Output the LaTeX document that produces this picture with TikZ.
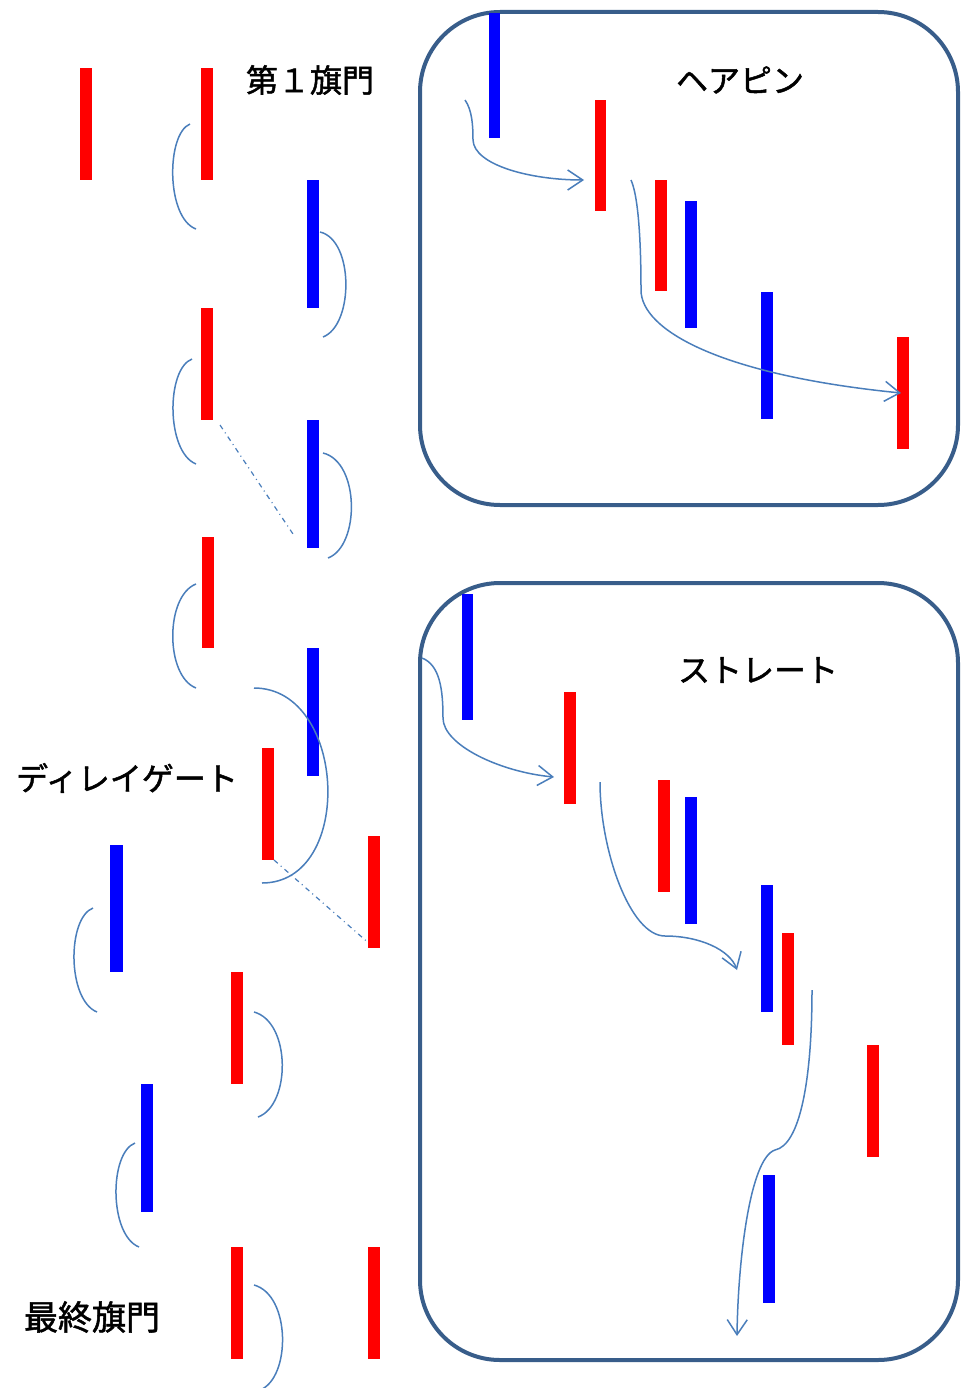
\documentclass[tikz,border=0pt]{standalone}
\usepackage{fontspec}
\setmainfont{Noto Sans CJK JP}[FakeBold=1.5]
\usetikzlibrary{arrows.meta}
\definecolor{swingblue}{RGB}{74,126,187}
\definecolor{panelblue}{RGB}{56,93,138}
\begin{document}
\begin{tikzpicture}[x=1pt, y=-1pt,
  redgate/.style={fill=red},
  bluegate/.style={fill=blue},
  swing/.style={draw=swingblue, line width=1.5pt},
  course/.style={draw=swingblue, line width=1.5pt, -{Straight Barb[length=15pt,width=20pt]}},
  guide/.style={draw=swingblue, line width=1.2pt, dash pattern=on 5pt off 4pt on 1pt off 4pt},
  panel/.style={draw=panelblue, line width=4pt, rounded corners=80pt},
  title/.style={font=\fontsize{32}{32}\selectfont, inner sep=0pt}]
\useasboundingbox (0,0) rectangle (961,1388);
% left column: gates and turns
\fill[redgate] (80,68) rectangle (92,180); % start gate
\fill[redgate] (201,68) rectangle (213,180); % 1st gate
\draw[swing] (190,124) .. controls (166,134) and (166,218) .. (196,229); % turn 1
\fill[bluegate] (307,180) rectangle (319,308);
\draw[swing] (320,232) .. controls (354,240) and (354,325) .. (323,337); % turn 2
\fill[redgate] (201,308) rectangle (213,420);
\draw[swing] (192,359) .. controls (166,369) and (166,452) .. (196,464); % turn 3
\draw[guide] (220,425) -- (295,537); % line to next gate
\fill[bluegate] (307,420) rectangle (319,548);
\draw[swing] (323,453) .. controls (360,462) and (360,546) .. (328,558); % turn 4
\fill[redgate] (202,537) rectangle (214,648);
\draw[swing] (196,584) .. controls (165,596) and (165,676) .. (196,688); % turn 5
\fill[bluegate] (307,648) rectangle (319,776);
\draw[swing] (254,688) .. controls (347,688) and (355,883) .. (262,883); % delay turn
\fill[redgate] (262,748) rectangle (274,860);
\draw[guide] (274,860) -- (372,946); % line to next gate
\fill[redgate] (368,836) rectangle (380,948);
\fill[bluegate] (110,845) rectangle (123,972);
\draw[swing] (93,908) .. controls (67,918) and (67,1000) .. (97,1012); % turn 6
\fill[redgate] (231,972) rectangle (243,1084);
\draw[swing] (254,1012) .. controls (291,1022) and (291,1105) .. (258,1117); % turn 7
\fill[bluegate] (141,1084) rectangle (153,1212);
\draw[swing] (135,1143) .. controls (109,1153) and (109,1235) .. (139,1247); % turn 8
\fill[redgate] (231,1247) rectangle (243,1359); % last gate
\draw[swing] (254,1285) .. controls (291,1295) and (291,1378) .. (260,1390); % last turn
\fill[redgate] (368,1247) rectangle (380,1359); % finish gate
\node[title] (first) at (310,80) {第１旗門};
\node[title] (delay) at (127,778) {ディレイゲート};
\node[title, font=\fontsize{34}{34}\selectfont] (last) at (92,1317) {最終旗門};
% hairpin panel
\draw[panel] (420,12) rectangle (958,505);
\node[title] (hairpin) at (740,80) {ヘアピン};
\fill[bluegate] (489,13) rectangle (500,138);
\fill[redgate] (595,100) rectangle (606,211);
\fill[redgate] (655,180) rectangle (667,291);
\fill[bluegate] (685,201) rectangle (697,328);
\fill[bluegate] (761,292) rectangle (773,419);
\fill[redgate] (897,337) rectangle (909,449);
\draw[course] (465,100) .. controls (472,110) and (473,125) .. (473,140) .. controls (474,165) and (530,180) .. (584,180); % into hairpin
\draw[course] (631,180) .. controls (640,200) and (641,260) .. (641,290) .. controls (641,330) and (720,375) .. (901,393); % out of hairpin
% straight panel
\draw[panel] (420,583) rectangle (958,1360);
\node[title] (straight) at (758,670) {ストレート};
\fill[bluegate] (462,594) rectangle (473,720);
\fill[redgate] (564,692) rectangle (576,804);
\fill[redgate] (658,780) rectangle (670,892);
\fill[bluegate] (685,797) rectangle (697,924);
\fill[bluegate] (761,885) rectangle (773,1012);
\fill[redgate] (782,933) rectangle (794,1045);
\fill[redgate] (867,1045) rectangle (879,1157);
\fill[bluegate] (763,1175) rectangle (775,1303);
\draw[course] (422,658) .. controls (440,665) and (443,690) .. (443,718) .. controls (443,745) and (500,772) .. (554,777); % into straight
\draw[course] (600,782) .. controls (600,850) and (630,936) .. (665,936) .. controls (700,936) and (730,950) .. (737,970); % through straight
\draw[course] (812,990) .. controls (812,1080) and (800,1145) .. (775,1150) .. controls (750,1158) and (738,1260) .. (737,1336); % out of straight
\end{tikzpicture}
\end{document}
